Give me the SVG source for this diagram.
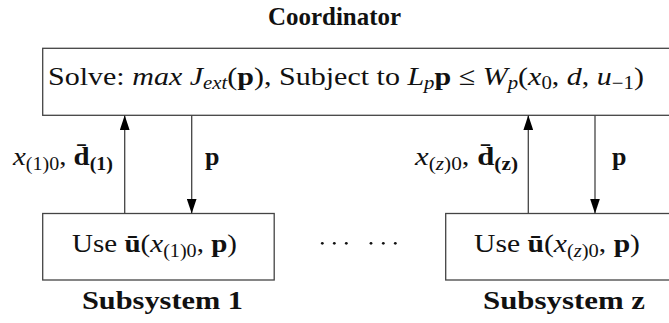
<svg xmlns="http://www.w3.org/2000/svg" width="669" height="323" viewBox="0 0 669 323">
<style>
text{fill:#111;font-family:'Liberation Serif','DejaVu Serif',serif;}
.b{font-weight:bold;}
.i{font-style:italic;}
.box{fill:#fff;stroke:#444;stroke-width:1.3;}
.ln{stroke:#444;stroke-width:1.3;fill:none;}
</style>
<defs>
<marker id="ah" viewBox="0 0 15 10" refX="15" refY="5" markerWidth="15" markerHeight="10" markerUnits="userSpaceOnUse" orient="auto">
<path d="M0,0 L15,5 L0,10 Z" fill="#000"/>
</marker>
</defs>
<rect width="669" height="323" fill="#fff"/>
<text class="b" x="268" y="25" font-size="25" textLength="133" lengthAdjust="spacingAndGlyphs">Coordinator</text>
<g id="coordinator">
<rect class="box" x="42.7" y="48.3" width="630" height="67"/>
<text x="48" y="85" font-size="26" textLength="596" lengthAdjust="spacingAndGlyphs">Solve: <tspan class="i">max J</tspan><tspan class="i" font-size="18" dy="4">ext</tspan><tspan dy="-4">(</tspan><tspan class="b">p</tspan>), Subject to <tspan class="i">L</tspan><tspan class="i" font-size="18" dy="4">p</tspan><tspan class="b" dy="-4">p</tspan> ≤ <tspan class="i">W</tspan><tspan class="i" font-size="18" dy="4">p</tspan><tspan dy="-4">(</tspan><tspan class="i">x</tspan><tspan font-size="18" dy="4">0</tspan><tspan dy="-4">, </tspan><tspan class="i">d</tspan>, <tspan class="i">u</tspan><tspan font-size="18" dy="4">−1</tspan><tspan dy="-4">)</tspan></text>
</g>
<g id="subsystem1">
<rect class="box" x="42.7" y="213.5" width="231.5" height="66.5"/>
<text x="72" y="252" font-size="26" textLength="165" lengthAdjust="spacingAndGlyphs">Use <tspan class="b">ū</tspan>(<tspan class="i">x</tspan><tspan font-size="18" dy="5">(1)0</tspan><tspan dy="-5">, </tspan><tspan class="b">p</tspan>)</text>
<text class="b" x="82" y="309" font-size="26" textLength="161" lengthAdjust="spacingAndGlyphs">Subsystem 1</text>
</g>
<g id="subsystemz">
<rect class="box" x="445.7" y="213.5" width="230" height="66.5"/>
<text x="474" y="252" font-size="26" textLength="166" lengthAdjust="spacingAndGlyphs">Use <tspan class="b">ū</tspan>(<tspan class="i">x</tspan><tspan font-size="18" dy="5">(<tspan class="i">z</tspan>)0</tspan><tspan dy="-5">, </tspan><tspan class="b">p</tspan>)</text>
<text class="b" x="483" y="309" font-size="26" textLength="162" lengthAdjust="spacingAndGlyphs">Subsystem z</text>
</g>
<g id="dots" fill="#111">
<circle cx="322.3" cy="243.3" r="1.4"/><circle cx="334.3" cy="243.3" r="1.4"/><circle cx="346.3" cy="243.3" r="1.4"/>
<circle cx="371" cy="243.3" r="1.4"/><circle cx="383.3" cy="243.3" r="1.4"/><circle cx="395.3" cy="243.3" r="1.4"/>
</g>
<g id="connectors">
<line class="ln" x1="124.7" y1="213.5" x2="124.7" y2="115.3" marker-end="url(#ah)"/>
<line class="ln" x1="191.7" y1="115.3" x2="191.7" y2="213.5" marker-end="url(#ah)"/>
<line class="ln" x1="528.3" y1="213.5" x2="528.3" y2="115.3" marker-end="url(#ah)"/>
<line class="ln" x1="595" y1="115.3" x2="595" y2="213.5" marker-end="url(#ah)"/>
<text x="13" y="165" font-size="26" textLength="100" lengthAdjust="spacingAndGlyphs"><tspan class="i">x</tspan><tspan font-size="18" dy="5">(1)0</tspan><tspan dy="-5">, </tspan><tspan class="b">d̄</tspan><tspan class="b" font-size="18" dy="5">(1)</tspan></text>
<text class="b" x="205" y="165" font-size="26">p</text>
<text x="415" y="165" font-size="26" textLength="103" lengthAdjust="spacingAndGlyphs"><tspan class="i">x</tspan><tspan font-size="18" dy="5">(<tspan class="i">z</tspan>)0</tspan><tspan dy="-5">, </tspan><tspan class="b">d̄</tspan><tspan class="b" font-size="18" dy="5">(z)</tspan></text>
<text class="b" x="612" y="165" font-size="26">p</text>
</g>
</svg>
